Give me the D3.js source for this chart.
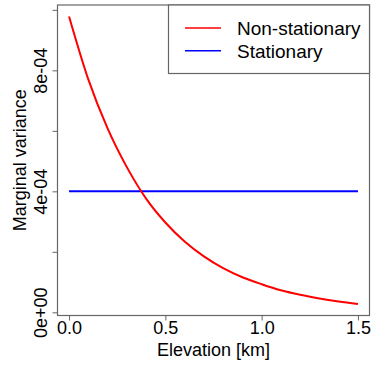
<!DOCTYPE html>
<html>
<head>
<meta charset="utf-8">
<script src="https://cdnjs.cloudflare.com/ajax/libs/d3/7.8.5/d3.min.js"></script>
<style>
  body { margin: 0; background: #fff; }
  text { font-family: "Liberation Sans", Arial, sans-serif; fill: #000; }
</style>
</head>
<body>
<script>
// elevation in km
const elevation = [0.0, 0.1, 0.2, 0.3, 0.4, 0.5, 0.6, 0.7, 0.8, 0.9, 1.0, 1.1, 1.2, 1.3, 1.4, 1.5];
// marginal variance
const nonStationary = [9.78e-4, 7.70e-4, 6.08e-4, 4.80e-4, 3.76e-4, 2.97e-4, 2.34e-4, 1.85e-4,
                       1.46e-4, 1.16e-4, 9.3e-5, 7.3e-5, 5.8e-5, 4.6e-5, 3.6e-5, 2.75e-5];
const stationaryX = [0.0, 1.5];
const stationary = [4e-4, 4e-4];

const xTicks = [0, 0.5, 1.0, 1.5];
const yTicks = [0, 2e-4, 4e-4, 6e-4, 8e-4, 1e-3];
const yLabels = ["0e+00", "", "4e-04", "", "8e-04", ""];

const legendNames = ["Non-stationary", "Stationary"];
const colors = ["#ff0000", "#0000ff"];

const w = 371, h = 365;
const box = {left: 57.5, right: 369.5, top: 5, bottom: 315.5};

// R style 4% padding of the data range
const xr = d3.extent(elevation);
const xpad = (xr[1] - xr[0]) * 0.04;
const yr = d3.extent(nonStationary.concat(stationary));
const ypad = (yr[1] - yr[0]) * 0.04;

const x = d3.scaleLinear()
            .domain([xr[0] - xpad, xr[1] + xpad])
            .range([box.left, box.right]);
const y = d3.scaleLinear()
            .domain([yr[0] - ypad, yr[1] + ypad])
            .range([box.bottom, box.top]);

const svg = d3.select("body").append("svg")
              .attr("width", w)
              .attr("height", h);

const line = d3.line()
               .x((d) => x(d[0]))
               .y((d) => y(d[1]))
               .curve(d3.curveMonotoneX);

svg.append("path")
   .datum(stationaryX.map((e, i) => [e, stationary[i]]))
   .attr("d", line)
   .attr("fill", "none")
   .attr("stroke", colors[1])
   .attr("stroke-width", 2);

svg.append("path")
   .datum(elevation.map((e, i) => [e, nonStationary[i]]))
   .attr("d", line)
   .attr("fill", "none")
   .attr("stroke", colors[0])
   .attr("stroke-width", 2);

// axes
const xAxis = d3.axisBottom(x)
                .tickValues(xTicks)
                .tickSize(5)
                .tickFormat(d3.format(".1f"));
const yAxis = d3.axisLeft(y)
                .tickValues(yTicks)
                .tickSize(5)
                .tickFormat((d, i) => yLabels[i]);

const gx = svg.append("g")
              .attr("transform", "translate(0," + box.bottom + ")")
              .call(xAxis);
gx.select(".domain").remove();
gx.selectAll("line").attr("stroke", "#666");
gx.selectAll("text")
  .attr("font-size", 18)
  .attr("font-family", "Liberation Sans, Arial, sans-serif")
  .attr("fill", "#000")
  .attr("dy", null)
  .attr("y", 18);

const gy = svg.append("g")
              .attr("transform", "translate(" + box.left + ",0)")
              .call(yAxis);
gy.select(".domain").remove();
gy.selectAll("line").attr("stroke", "#666");
gy.selectAll("text")
  .attr("font-size", 18)
  .attr("font-family", "Liberation Sans, Arial, sans-serif")
  .attr("fill", "#000")
  .attr("text-anchor", "middle")
  .attr("dy", null)
  .attr("x", null)
  .attr("transform", "translate(-10.5,0) rotate(-90)");

// plot box
svg.append("rect")
   .attr("x", box.left)
   .attr("y", box.top)
   .attr("width", box.right - box.left)
   .attr("height", box.bottom - box.top)
   .attr("fill", "none")
   .attr("stroke", "#666")
   .attr("stroke-width", 1.2);

svg.append("text")
   .attr("x", (box.left + box.right) / 2)
   .attr("y", 356)
   .attr("text-anchor", "middle")
   .attr("font-size", 18)
   .text("Elevation [km]");

svg.append("text")
   .attr("transform", "translate(25.5," + (box.top + box.bottom) / 2 + ") rotate(-90)")
   .attr("text-anchor", "middle")
   .attr("font-size", 18)
   .text("Marginal variance");

// legend
const legend = svg.append("g");
legend.append("rect")
      .attr("x", 168.5)
      .attr("y", box.top)
      .attr("width", box.right - 168.5)
      .attr("height", 68.5)
      .attr("fill", "#fff")
      .attr("stroke", "#666")
      .attr("stroke-width", 1.2);

const items = legend.selectAll(".item")
                    .data(legendNames)
                    .enter().append("g")
                    .attr("class", "item")
                    .attr("transform", (d, i) => "translate(0," + (28 + i * 22.7) + ")");
items.append("line")
     .attr("x1", 185)
     .attr("x2", 221)
     .attr("stroke", (d, i) => colors[i])
     .attr("stroke-width", 1.5);
items.append("text")
     .attr("x", 237)
     .attr("y", 7)
     .attr("font-size", 19)
     .text((d) => d);
</script>
</body>
</html>
